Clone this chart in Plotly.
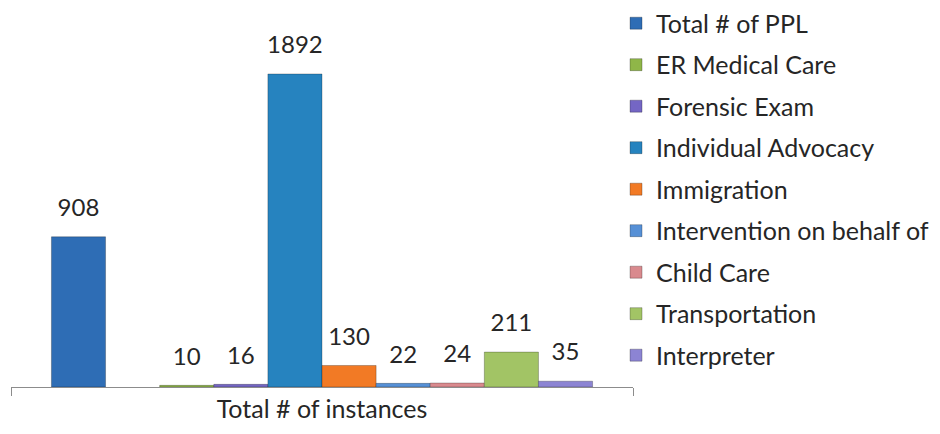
import plotly.graph_objects as go

category = ["Total # of instances"]
series_names = ["Total # of PPL", "ER Medical Care", "Forensic Exam", "Individual Advocacy",
                "Immigration", "Intervention on behalf of", "Child Care", "Transportation",
                "Interpreter"]
series_values = [908, 10, 16, 1892, 130, 22, 24, 211, 35]
series_colors = ["#2E6DB5", "#8FB648", "#7466C4", "#2683BF", "#F27A25",
                 "#5690D6", "#D98A8E", "#A2C465", "#8C84D3"]

FONT = "Lato"
FS = 24
FS_BIG = 25
fig = go.Figure()
for i, (name, val, col) in enumerate(zip(series_names, series_values, series_colors)):
    fig.add_trace(go.Bar(
        x=category, y=[val], name=name, legendgroup=name, offsetgroup=str(i),
        marker=dict(color=col, line=dict(color="rgba(0,0,0,0.25)", width=1)),
        hoverinfo="name+y",
    ))
    fig.add_trace(go.Scatter(
        x=category, y=[val], mode="markers+text", text=[str(val)],
        textposition="top center", offsetgroup=str(i), showlegend=False,
        marker=dict(size=22, opacity=0), cliponaxis=False, hoverinfo="skip",
        textfont=dict(family=FONT, size=FS, color="#262626"),
    ))
    if i == 0:
        # empty slot between the first series and the rest
        fig.add_trace(go.Bar(x=category, y=[None], name="", showlegend=False,
                             offsetgroup="gap", hoverinfo="skip"))
        fig.add_trace(go.Scatter(x=category, y=[None], mode="markers", showlegend=False,
                                 offsetgroup="gap", hoverinfo="skip"))

fig.update_layout(
    width=932, height=426,
    margin=dict(l=3, r=307, t=15, b=47, autoexpand=False),
    paper_bgcolor="white", plot_bgcolor="white",
    barmode="group", bargap=0.13, bargroupgap=0,
    scattermode="group", scattergap=0.13,
    font=dict(family=FONT, size=FS, color="#262626"),
    showlegend=True,
    legend=dict(x=0.9727, xanchor="left", y=1.062, yanchor="top",
                font=dict(family=FONT, size=FS_BIG, color="#262626"),
                tracegroupgap=6, bgcolor="rgba(0,0,0,0)", maxheight=434),
    xaxis=dict(showline=True, linecolor="#8c8c8c", linewidth=1,
               ticks="outside", tickson="boundaries", ticklen=8, tickcolor="#8c8c8c",
               tickfont=dict(family=FONT, size=FS_BIG, color="#262626"), showgrid=False),
    yaxis=dict(range=[0, 2200], visible=False, showgrid=False, zeroline=False),
)
fig.write_html("out.html")
